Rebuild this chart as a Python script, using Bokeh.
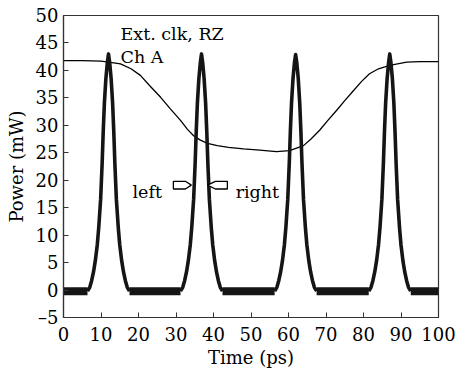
from bokeh.plotting import figure
from bokeh.models import FixedTicker, Label
from bokeh.embed import file_html
from bokeh.resources import INLINE

# ---------------- data ----------------
# pulse train (eye trace), channel A
pulse_centers = [12.0, 36.8, 61.9, 87.0]
pulse_peaks = [43.0, 43.0, 42.9, 43.0]
baseline_level = -0.2
# one pulse profile: time offset from centre (ps) and power (mW)
profile_offsets = [-5.6, -5.0, -4.5, -4.0, -3.5, -3.0, -2.6, -2.1, -1.7, -1.4, -1.1, -0.7, -0.3,
                   0.0, 0.3, 0.7, 1.1, 1.4, 1.7, 2.1, 2.6, 3.0, 3.5, 4.0, 4.5, 5.0, 5.6]
profile_levels = [-0.2, 0.5, 1.7, 3.3, 5.4, 8.2, 11.4, 16.5, 23.0, 29.0, 34.0, 38.5, 41.5,
                  None, 41.5, 38.5, 34.0, 29.0, 23.0, 16.5, 11.4, 8.2, 5.4, 3.3, 1.7, 0.5, -0.2]

# smooth curve
curve_t = [0, 5, 10, 12, 15.2, 18, 20.5, 23, 25.9, 28.5, 31.2, 33, 34.7, 36.5, 38.4, 41, 44,
           48, 52.3, 56.8, 60.3, 64, 66, 68.3, 70.5, 72.8, 75, 77.3, 79.5, 81.6, 84, 87, 91.5, 95, 100]
curve_p = [41.8, 41.8, 41.7, 41.5, 41.2, 40.3, 39.1, 37.2, 35.1, 33.0, 30.9, 29.3, 28.1, 27.3, 26.7,
           26.3, 26.0, 25.7, 25.5, 25.2, 25.4, 26.3, 27.5, 29.1, 30.9, 32.7, 34.5, 36.3, 38.0, 39.4,
           40.3, 40.9, 41.5, 41.6, 41.6]

x_ticks = [0, 10, 20, 30, 40, 50, 60, 70, 80, 90, 100]
y_ticks = [-5, 0, 5, 10, 15, 20, 25, 30, 35, 40, 45, 50]

# annotations
note_lines = ["Ext. clk, RZ", "Ch A"]
note_x = 15.2
note_y = [46.7, 42.4]
left_text = ("left", 18.4, 17.9)
right_text = ("right", 45.9, 17.9)
left_arrow_x = [29.3, 32.5, 34.1, 32.5, 29.3]
left_arrow_y = [18.4, 18.4, 19.1, 19.8, 19.8]
right_arrow_x = [43.7, 40.5, 38.4, 40.5, 43.7]
right_arrow_y = [18.4, 18.4, 19.1, 19.8, 19.8]

# ---------------- build trace ----------------
trace_t, trace_p = [], []
base_t, base_p = [[0.0]], [[baseline_level]]
for c, pk in zip(pulse_centers, pulse_peaks):
    base_t[-1].append(c + profile_offsets[0])
    base_p[-1].append(baseline_level)
    for dt, lv in zip(profile_offsets, profile_levels):
        trace_t.append(c + dt)
        trace_p.append(pk if lv is None else lv)
    trace_t.append(float("nan"))
    trace_p.append(float("nan"))
    base_t.append([c + profile_offsets[-1]])
    base_p.append([baseline_level])
base_t[-1].append(100.0)
base_p[-1].append(baseline_level)

FONT = "DejaVu Serif"

p = figure(frame_width=375, frame_height=302, output_backend="svg", toolbar_location=None,
           x_range=(0, 100), y_range=(-5, 50),
           min_border_left=63, min_border_right=18, min_border_top=15, min_border_bottom=53)
p.grid.visible = False
p.outline_line_color = "#333333"
p.outline_line_width = 1.2
p.background_fill_color = "white"
p.border_fill_color = "white"

p.line(curve_t, curve_p, line_color="black", line_width=1.3)
p.multi_line(base_t, base_p, line_color="#151515", line_width=8)
p.line(trace_t, trace_p, line_color="#151515", line_width=3.6, line_join="round")

p.patch(left_arrow_x, left_arrow_y, fill_color="white", line_color="black", line_width=1.3)
p.patch(right_arrow_x, right_arrow_y, fill_color="white", line_color="black", line_width=1.3)

for txt, yy in zip(note_lines, note_y):
    p.add_layout(Label(x=note_x, y=yy, text=txt, text_font=FONT, text_font_size="17.5px",
                       text_color="black", text_baseline="alphabetic"))
for txt, xx, yy in (left_text, right_text):
    p.add_layout(Label(x=xx, y=yy, text=txt, text_font=FONT, text_font_size="17.5px",
                       text_color="black", text_baseline="alphabetic"))

for ax in (p.xaxis[0], p.yaxis[0]):
    ax.axis_line_color = "#333333"
    ax.axis_line_width = 1.2
    ax.major_tick_in = 5
    ax.major_tick_out = 0
    ax.minor_tick_line_color = None
    ax.major_tick_line_color = "#333333"
    ax.major_label_text_font = FONT
    ax.major_label_text_font_size = "18px"
    ax.major_label_text_color = "black"
    ax.axis_label_text_font = FONT
    ax.axis_label_text_font_size = "18px"
    ax.axis_label_text_font_style = "normal"
    ax.axis_label_text_color = "black"

p.xaxis[0].ticker = FixedTicker(ticks=x_ticks)
p.yaxis[0].ticker = FixedTicker(ticks=y_ticks)
p.yaxis[0].major_label_overrides = {-5: "\u20135"}
p.xaxis[0].axis_label = "Time (ps)"
p.yaxis[0].axis_label = "Power (mW)"
p.xaxis[0].major_label_standoff = 9
p.xaxis[0].axis_label_standoff = 3
p.yaxis[0].major_label_standoff = 5
p.yaxis[0].axis_label_standoff = 6

open("out.html", "w").write(file_html(p, INLINE))
